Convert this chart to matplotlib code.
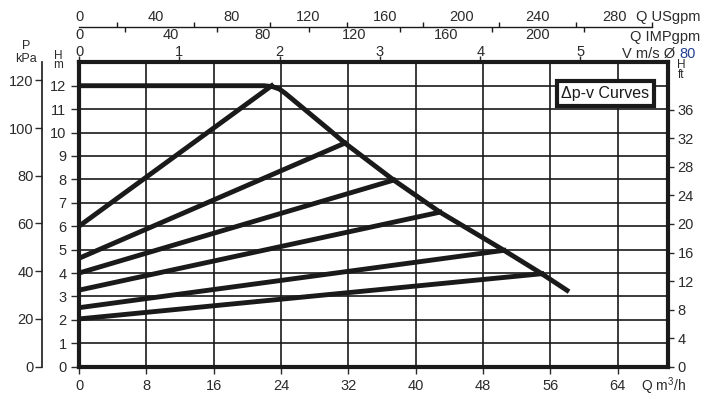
import matplotlib as mpl
mpl.use('Agg')
import matplotlib.pyplot as plt
from matplotlib.ticker import FixedLocator

plt.rcParams['font.family'] = ['Liberation Sans', 'DejaVu Sans']
plt.rcParams['mathtext.default'] = 'regular'

# max curve (m3/h, m)
q_max = [0, 22.0, 23.0, 23.8, 24.5, 29.8, 31.6, 37.4, 42.9, 50.5, 55.0, 58.0]
h_max = [12, 12, 11.96, 11.86, 11.68, 10.1, 9.55, 7.97, 6.6, 4.97, 3.97, 3.26]

# dp-v lines: head at zero flow -> point on max curve
dpv_h0 = [6.0, 4.63, 4.0, 3.27, 2.52, 2.04]
dpv_q1 = [22.9, 31.6, 37.4, 42.9, 50.5, 55.0]
dpv_h1 = [12.0, 9.55, 7.97, 6.6, 4.97, 3.97]

q_ticks = list(range(0, 65, 8))
h_ticks = list(range(0, 13))
kpa_ticks = list(range(0, 121, 20))
ft_ticks = list(range(0, 37, 4))
v_ticks = [0, 1, 2, 3, 4, 5]
us_ticks = [0, 40, 80, 120, 160, 200, 240, 280]
us_minor = [20, 60, 100, 140, 180, 220, 260, 300]
imp_ticks = [0, 40, 80, 120, 160, 200]
imp_minor = [20, 60, 100, 140, 180, 220]

KPA_PER_M = 9.81
FT_PER_M = 3.2808
M3H_PER_USGPM = 0.22712
M3H_PER_IMPGPM = 0.27277
M3H_PER_MS = 11.92

ink = '#1a1a1a'
txt = '#2b2b2b'
fs = 10.5
fs_unit = 8.5

fig = plt.figure(figsize=(7.08, 3.99), dpi=100)
ax = fig.add_axes([79/708, (399-366.7)/399, 589/708, 304.4/399])
ax.set_xlim(0, 70)
ax.set_ylim(0, 13)
ax.set_xticks(q_ticks)
ax.set_yticks(h_ticks)
ax.grid(True, color=ink, lw=1.2)
ax.tick_params(colors=txt, labelsize=fs, width=1, length=5, pad=4)
ax.tick_params(axis='y', length=6, pad=3)
for s in ax.spines.values():
    s.set_linewidth(3)
    s.set_color(ink)

ax.plot(q_max, h_max, color=ink, lw=3.5, solid_joinstyle='round', zorder=3)
for h0, q1, h1 in zip(dpv_h0, dpv_q1, dpv_h1):
    ax.plot([0, q1], [h0, h1], color=ink, lw=3.5, zorder=3)

# pressure axis on the far left
kpa = ax.secondary_yaxis(-37/589, functions=(lambda m: m*KPA_PER_M, lambda p: p/KPA_PER_M))
kpa.set_yticks(kpa_ticks)
kpa.tick_params(colors=txt, labelsize=fs, width=1, length=5, pad=1)
kpa.spines['left'].set_linewidth(1.2)
kpa.spines['left'].set_color(ink)

# feet on the right
ft = ax.secondary_yaxis('right', functions=(lambda m: m*FT_PER_M, lambda f: f/FT_PER_M))
ft.set_yticks(ft_ticks)
ft.tick_params(colors=txt, labelsize=fs, width=1, length=4, pad=3)
ft.spines['right'].set_visible(False)

# velocity on top spine
vel = ax.secondary_xaxis('top', functions=(lambda q: q/M3H_PER_MS, lambda v: v*M3H_PER_MS))
vel.set_xticks(v_ticks)
vel.tick_params(colors=txt, labelsize=fs, width=1, length=4, pad=-1.5)
vel.spines['top'].set_visible(False)

# gpm scales share one line above
loc = 1 + (62.3 - 26.7) / 304.4
us = ax.secondary_xaxis(loc, functions=(lambda q: q/M3H_PER_USGPM, lambda g: g*M3H_PER_USGPM))
us.set_xticks(us_ticks)
us.xaxis.set_minor_locator(FixedLocator(us_minor))
us.tick_params(colors=txt, labelsize=fs, width=1, length=0, pad=2)
us.tick_params(which='minor', length=3.5, width=1, color=ink)
us.spines['top'].set_linewidth(1)
us.spines['top'].set_color(ink)
us.spines['top'].set_bounds(0, 300)

imp = ax.secondary_xaxis(loc, functions=(lambda q: q/M3H_PER_IMPGPM, lambda g: g*M3H_PER_IMPGPM))
imp.set_alignment('bottom')
imp.set_xticks(imp_ticks)
imp.xaxis.set_minor_locator(FixedLocator(imp_minor))
imp.tick_params(colors=txt, labelsize=fs, width=1, length=0, pad=1)
imp.tick_params(which='minor', length=3.5, width=1, color=ink)
imp.spines['bottom'].set_visible(False)

# unit labels
def label(x, y, s, size=fs, ha='center', color=txt, ls=1.0):
    fig.text(x/708, 1-y/399, s, ha=ha, va='baseline', fontsize=size, color=color,
             linespacing=ls, multialignment='center')

label(700, 20.7, 'Q USgpm', ha='right')
label(700, 41.5, 'Q IMPgpm', ha='right')
label(679, 57.5, 'V m/s Ø ', ha='right')
label(679, 57.5, '80', ha='left', color='#243f8f')
label(26, 61.5, 'P\nkPa', size=9, ls=1.05)
label(58, 68.5, 'H\nm', size=fs_unit, ls=0.75)
label(681, 77.5, 'H\nft', size=fs_unit, ls=0.75)
label(641, 391, r'Q m$^3$/h', ha='left', size=10)

ax.text(0.8937, 0.898, 'Δp-v Curves', transform=ax.transAxes, ha='center', va='center',
        fontsize=11.5, color=ink, zorder=5,
        bbox=dict(boxstyle='square,pad=0.3', fc='white', ec=ink, lw=3))

fig.savefig('out.png', dpi=100)
